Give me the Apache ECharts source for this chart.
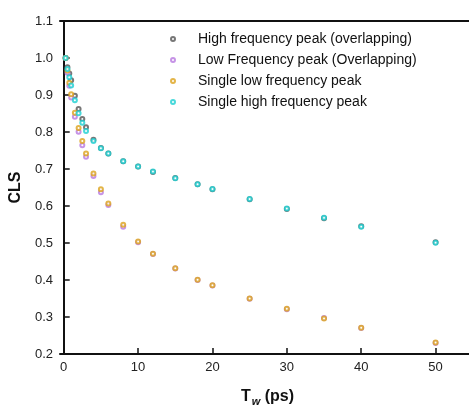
<!DOCTYPE html>
<html>
<head>
<meta charset="utf-8">
<script src="https://cdn.jsdelivr.net/npm/echarts@6/dist/echarts.min.js"></script>
<style>
  html, body { margin: 0; padding: 0; background: #fff; }
  #chart { width: 469px; height: 406px; }
</style>
</head>
<body>
<div id="chart"></div>
<script>
// Tw (ps)
var tw = [0.25, 0.5, 0.75, 1, 1.5, 2, 2.5, 3, 4, 5, 6, 8, 10, 12, 15, 18, 20, 25, 30, 35, 40, 50];
// CLS values
var highOverlap = [1.0, 0.975, 0.958, 0.940, 0.898, 0.862, 0.835, 0.813, 0.779, 0.757, 0.742, 0.721, 0.707, 0.692, 0.676, 0.659, 0.645, 0.618, 0.592, 0.567, 0.545, 0.502];
var lowOverlap = [1.0, 0.960, 0.925, 0.893, 0.841, 0.801, 0.764, 0.733, 0.681, 0.637, 0.603, 0.544, 0.502, 0.470, 0.431, 0.400, 0.385, 0.349, 0.321, 0.297, 0.270, 0.230];
var singleLow = [1.0, 0.966, 0.933, 0.902, 0.852, 0.811, 0.776, 0.742, 0.688, 0.645, 0.607, 0.549, 0.504, 0.471, 0.432, 0.401, 0.386, 0.350, 0.322, 0.296, 0.271, 0.231];
var singleHigh = [1.0, 0.970, 0.948, 0.926, 0.886, 0.851, 0.825, 0.803, 0.776, 0.756, 0.742, 0.721, 0.707, 0.693, 0.675, 0.659, 0.646, 0.619, 0.593, 0.568, 0.544, 0.501];

var seriesNames = ['High frequency peak (overlapping)', 'Low Frequency peak (Overlapping)', 'Single low frequency peak', 'Single high frequency peak'];
var seriesColors = ['#555555', '#b878e0', '#dca31c', '#1ccfd2'];
var seriesValues = [highOverlap, lowOverlap, singleLow, singleHigh];

function pairs(ys) {
    var out = [];
    for (var i = 0; i < tw.length; i++) {
        out.push([tw[i], ys[i]]);
    }
    return out;
}

var series = [];
for (var k = 0; k < seriesNames.length; k++) {
    series.push({
        name : seriesNames[k],
        type : 'scatter',
        symbol : 'emptyCircle',
        symbolSize : 4,
        itemStyle : {
            color : seriesColors[k],
            borderColor : seriesColors[k],
            borderWidth : 1.1
        },
        data : pairs(seriesValues[k])
    });
}

var chart = echarts.init(document.getElementById('chart'));
var font = '"Liberation Sans", Arial, sans-serif';
chart.setOption({
    animation : false,
    textStyle : { fontFamily : font },
    grid : {
        left : 60,
        right : -6,
        top : 21,
        bottom : 52,
        containLabel : false,
        outerBoundsMode : 'none'
    },
    legend : {
        orient : 'vertical',
        left : 165,
        top : 26,
        itemWidth : 4,
        itemHeight : 4,
        itemGap : 5,
        icon : 'emptyCircle',
        textStyle : {
            fontSize : 14,
            color : '#111',
            lineHeight : 16,
            padding : [0, 0, 0, 18]
        },
        data : seriesNames
    },
    xAxis : [{
        type : 'value',
        min : -0.5,
        max : 55.3,
        splitNumber : 5,
        name : '{b|T}{s|w}{b| (ps)}',
        nameLocation : 'middle',
        nameGap : 33,
        nameTextStyle : {
            rich : {
                b : { fontSize : 16, fontWeight : 'bold', color : '#111', fontFamily : font },
                s : { fontSize : 11, fontWeight : 'bold', fontStyle : 'italic', color : '#111', fontFamily : font, padding : [9, 0, 0, 1] }
            }
        },
        axisLine : { lineStyle : { color : '#111', width : 2 } },
        axisTick : { inside : true, length : 6, lineStyle : { color : '#111', width : 1.5 } },
        axisLabel : { fontSize : 13, color : '#222', margin : 7, showMinLabel : false, showMaxLabel : false },
        splitLine : { show : false }
    }, {
        // top frame line
        type : 'value',
        position : 'top',
        min : -0.5,
        max : 55.3,
        axisLine : { lineStyle : { color : '#111', width : 2 } },
        axisTick : { show : false },
        axisLabel : { show : false },
        splitLine : { show : false }
    }],
    yAxis : {
        type : 'value',
        min : 0.2,
        max : 1.1,
        interval : 0.1,
        name : 'CLS',
        nameLocation : 'middle',
        nameGap : 27,
        nameTextStyle : { fontSize : 16, fontWeight : 'bold', color : '#111' },
        axisLine : { lineStyle : { color : '#111', width : 2 } },
        axisTick : { inside : true, length : 6, lineStyle : { color : '#111', width : 1.5 } },
        axisLabel : {
            fontSize : 13,
            color : '#222',
            margin : 7,
            formatter : function(v) { return v.toFixed(1); }
        },
        splitLine : { show : false }
    },
    series : series
});
</script>
</body>
</html>
